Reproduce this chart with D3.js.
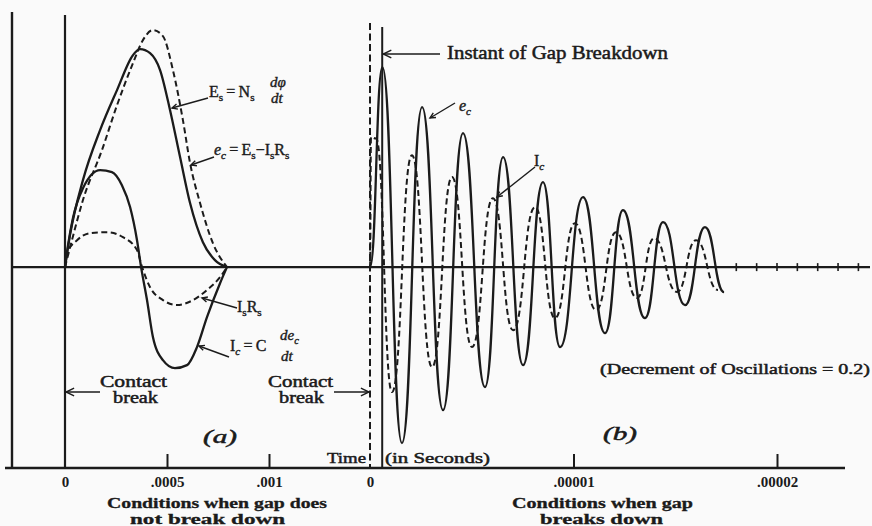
<!DOCTYPE html>
<html>
<head>
<meta charset="utf-8">
<script src="https://cdnjs.cloudflare.com/ajax/libs/d3/7.8.5/d3.min.js"></script>
<style>
  body { margin: 0; background: #fafafa; }
  svg { display: block; }
  text { font-family: "Liberation Serif", "DejaVu Serif", serif; fill: #1b1b1b; }
</style>
</head>
<body>
<div id="canvas"></div>
<script>
"use strict"

/* Panel (a) - gap does not break down. Time in seconds, values in relative units */
let esTime = [0, 0.245e-4, 0.88e-4, 1.72e-4, 2.55e-4, 3.33e-4, 3.68e-4, 4.17e-4, 4.66e-4, 5.15e-4, 5.64e-4, 6.13e-4, 6.76e-4, 7.35e-4, 7.94e-4];
let esValue = [0, 15.9, 43.3, 68.2, 88.1, 105.5, 108.5, 106.5, 98.1, 78.1, 54.8, 31.9, 12.4, 3.5, 0];

let ecTimeA = [0, 0.34e-4, 0.88e-4, 1.81e-4, 2.55e-4, 3.33e-4, 3.82e-4, 4.31e-4, 4.80e-4, 5.29e-4, 5.78e-4, 6.13e-4, 6.62e-4, 7.25e-4, 7.94e-4];
let ecValueA = [0, 13.4, 33.4, 58.2, 80.6, 101.5, 113.0, 118.0, 115.0, 98.1, 73.2, 51.8, 31.9, 11.9, 0];

let icTimeA = [0, 0.15e-4, 0.39e-4, 0.88e-4, 1.72e-4, 2.30e-4, 2.79e-4, 3.19e-4, 3.53e-4, 3.73e-4, 4.02e-4, 4.31e-4, 4.80e-4, 5.39e-4, 5.98e-4, 6.47e-4, 6.96e-4, 7.60e-4, 7.94e-4];
let icValueA = [0, 11.0, 24.4, 39.3, 48.3, 47.3, 40.8, 29.9, 13.4, 0, -16.4, -34.8, -46.3, -50.3, -48.8, -39.8, -24.9, -8.0, 0];

let isrsTime = [0, 0.10e-4, 0.59e-4, 1.23e-4, 2.06e-4, 2.84e-4, 3.53e-4, 3.78e-4, 4.17e-4, 4.80e-4, 5.49e-4, 6.28e-4, 6.96e-4, 7.60e-4, 7.94e-4];
let isrsValue = [0, 7.0, 13.4, 16.9, 17.4, 14.9, 8.5, 0, -10.0, -16.4, -18.9, -16.4, -11.4, -5.0, 0];

/* Panel (b) - gap breaks down: crests and troughs of the oscillation (times in seconds) */
let ecTimeB = [0, 0.61e-6, 1.57e-6, 2.56e-6, 3.59e-6, 4.57e-6, 5.65e-6, 6.54e-6, 7.52e-6, 8.50e-6, 9.34e-6, 10.47e-6, 11.55e-6, 12.43e-6, 13.51e-6, 14.40e-6, 15.48e-6, 16.46e-6, 17.40e-6];
let ecValueB = [0, 99.6, -87.6, 79.6, -71.2, 66.7, -59.7, 54.8, -48.8, 42.3, -39.8, 34.8, -32.9, 28.4, -25.4, 22.4, -18.9, 19.9, -12.4];

let icTimeB = [0, 0.05e-6, 0.30e-6, 1.08e-6, 2.06e-6, 3.05e-6, 4.03e-6, 5.01e-6, 6.04e-6, 7.03e-6, 8.11e-6, 9.09e-6, 10.07e-6, 11.11e-6, 12.09e-6, 13.12e-6, 13.96e-6, 15.09e-6, 16.02e-6, 17.10e-6];
let icValueB = [0, 64.7, 64, -62.2, 55.7, -49.8, 44.8, -39.8, 34.3, -31.4, 29.9, -25.4, 21.9, -21.4, 17.4, -15.4, 14.4, -12.4, 13.4, -11.4];

let breakdownTime = 0.6e-6;

/* Tick values and labels */
let ticksA = [0, 0.0005, 0.001];
let tickLabelsA = ["0", ".0005", ".001"];
let ticksB = [0, 0.00001, 0.00002];
let tickLabelsB = ["0", ".00001", ".00002"];
let smallTicksB = [18e-6, 19e-6, 20e-6, 21e-6, 22e-6, 23e-6, 24e-6];

/* drawing canvas */
let drawing = d3.select("#canvas")
    .append("svg")
    .attr("width", 872)
    .attr("height", 526);

drawing.append("rect")
    .attr("width", 872)
    .attr("height", 526)
    .attr("fill", "#fafafa");

let ink = "#1b1b1b";

let xA = d3.scaleLinear().domain([0, 0.001]).range([65, 269]);
let xB = d3.scaleLinear().domain([0, 0.00002]).range([370, 777]);
let y = d3.scaleLinear().domain([-100, 127]).range([468, 12]);

/* frame lines */
function rule(x1, y1, x2, y2, w, dash) {
    let l = drawing.append("line")
        .attr("x1", x1).attr("y1", y1)
        .attr("x2", x2).attr("y2", y2)
        .attr("stroke", ink)
        .attr("stroke-width", w);
    if (dash) l.attr("stroke-dasharray", dash);
    return l;
}

rule(12, y(127), 12, y(-100), 2.4);                   // left border
rule(xA(0), 15, xA(0), y(-100), 2.2);                 // contact break (a)
rule(xB(0), 23, xB(0), y(-100), 2, "7,3.5");          // contact break (b)
rule(xB(breakdownTime), 27, xB(breakdownTime), y(-100), 2); // gap breakdown
rule(12, y(0), 870, y(0), 2.4);                       // zero line
rule(5, y(-100), 845, y(-100), 2.6);                  // time axis

/* axes */
function timeAxis(scale, values, labels) {
    let g = drawing.append("g")
        .attr("transform", "translate(0," + y(-100) + ")")
        .call(d3.axisBottom(scale)
            .tickValues(values)
            .tickFormat((d, i) => labels[i])
            .tickSize(-14)
            .tickPadding(8));
    g.select(".domain").remove();
    g.selectAll(".tick line")
        .attr("stroke", ink)
        .attr("stroke-width", 2)
        .filter(d => d === 0).remove();
    g.selectAll(".tick text")
        .attr("font-family", "Liberation Serif")
        .attr("font-weight", "bold")
        .attr("font-size", 15)
        .attr("fill", ink);
}
timeAxis(xA, ticksA, tickLabelsA);
timeAxis(xB, ticksB, tickLabelsB);

/* small ticks on the zero line past the oscillation */
drawing.selectAll(".smalltick")
    .data(smallTicksB)
    .enter()
    .append("line")
    .attr("x1", d => xB(d)).attr("x2", d => xB(d))
    .attr("y1", y(0) - 4).attr("y2", y(0) + 4)
    .attr("stroke", ink)
    .attr("stroke-width", 1.6);

/* curves */
function curve(scale, times, values, dashed, shape) {
    let line = d3.line()
        .x(d => scale(d[0]))
        .y(d => y(d[1]))
        .curve(shape);
    let p = drawing.append("path")
        .attr("d", line(d3.zip(times, values)))
        .attr("fill", "none")
        .attr("stroke", ink)
        .attr("stroke-width", dashed ? 2 : 2.3)
        .attr("stroke-linejoin", "round");
    if (dashed) p.attr("stroke-dasharray", "6,3.5");
}

curve(xA, esTime, esValue, false, d3.curveMonotoneX);
curve(xA, ecTimeA, ecValueA, true, d3.curveMonotoneX);
curve(xA, icTimeA, icValueA, false, d3.curveMonotoneX);
curve(xA, isrsTime, isrsValue, true, d3.curveMonotoneX);
curve(xB, ecTimeB, ecValueB, false, d3.curveBumpX);
curve(xB, icTimeB, icValueB, true, d3.curveBumpX);

/* arrows and leaders */
function arrow(x1, y1, x2, y2, head) {
    rule(x1, y1, x2, y2, 1.4);
    let a = Math.atan2(y2 - y1, x2 - x1);
    let s = head;
    drawing.append("polyline")
        .attr("points", [
            [x2 - s * Math.cos(a - 0.45), y2 - s * Math.sin(a - 0.45)],
            [x2, y2],
            [x2 - s * Math.cos(a + 0.45), y2 - s * Math.sin(a + 0.45)]
        ].join(" "))
        .attr("fill", "none")
        .attr("stroke", ink)
        .attr("stroke-width", 1.4);
}

arrow(440, 54, xB(breakdownTime) + 1, 54, 9);   // instant of gap breakdown
arrow(100, 392, xA(0) + 1, 392, 9);             // contact break (a)
arrow(334, 392, xB(0) - 1, 392, 9);             // contact break (b)
arrow(208, 98, 172, 108, 6);                    // E_s
arrow(214, 157, 191, 165, 6);                   // e_c (a)
arrow(237, 308, 202, 298, 6);                   // I_s R_s
arrow(229, 357, 199, 346, 6);                   // I_c (a)
arrow(455, 103, 430, 118, 6);                   // e_c (b)
arrow(535, 167, 497, 197, 6);                   // I_c (b)

/* plain labels */
function label(x, yy, str, size, opts) {
    opts = opts || {};
    let t = drawing.append("text")
        .attr("x", x)
        .attr("y", yy)
        .attr("font-size", size)
        .attr("text-anchor", opts.anchor || "start")
        .attr("stroke", ink)
        .attr("stroke-width", opts.stroke === undefined ? 0.5 : opts.stroke)
        .text(str);
    if (opts.width) t.attr("textLength", opts.width).attr("lengthAdjust", "spacingAndGlyphs");
    if (opts.italic) t.attr("font-style", "italic");
    if (opts.bold) t.attr("font-weight", "bold");
    if (opts.family) t.attr("font-family", opts.family);
    return t;
}

label(447, 59, "Instant of Gap Breakdown", 18, {width: 221});
label(600, 374, "(Decrement of Oscillations = 0.2)", 15, {width: 270});
label(100, 387, "Contact", 16, {width: 67});
label(113, 403, "break", 16, {width: 45});
label(268, 387, "Contact", 16, {width: 65});
label(279, 403, "break", 16, {width: 45});
label(327, 463, "Time", 15, {width: 39});
label(385, 463, "(in Seconds)", 15, {width: 105});
label(203, 443, "(a)", 18, {italic: true, width: 34});
label(603, 440, "(b)", 18, {italic: true, width: 34});

label(107, 508, "Conditions when gap does", 14, {bold: true, family: "DejaVu Serif", width: 220, stroke: 0.3});
label(130, 524, "not break down", 14, {bold: true, family: "DejaVu Serif", width: 155, stroke: 0.3});
label(512, 508, "Conditions when gap", 14, {bold: true, family: "DejaVu Serif", width: 181, stroke: 0.3});
label(540, 524, "breaks down", 14, {bold: true, family: "DejaVu Serif", width: 123, stroke: 0.3});

/* formula labels with subscripts */
function formula(x, yy, parts, size) {
    let t = drawing.append("text")
        .attr("x", x)
        .attr("y", yy)
        .attr("font-size", size)
        .attr("stroke", ink)
        .attr("stroke-width", 0.4);
    let shift = 0;
    parts.forEach(p => {
        let s = t.append("tspan").text(p[0]);
        let want = p[1] === "sub" ? 4 : 0;
        if (want !== shift) { s.attr("dy", want - shift); shift = want; }
        if (p[1] === "sub") s.attr("font-size", size * 0.7);
        if (p[2] === "i") s.attr("font-style", "italic");
    });
    return t;
}

formula(209, 97, [["E"], ["s", "sub"], ["\u2009=\u2009"], ["N"], ["s", "sub"]], 16);
formula(270, 87, [["d\u03c6", "", "i"]], 15);
formula(271, 103, [["dt", "", "i"]], 15);

formula(214, 155, [["e", "", "i"], ["c", "sub", "i"], ["\u2009=\u2009E"], ["s", "sub"], ["\u2212I"], ["s", "sub"], ["R"], ["s", "sub"]], 16);

formula(237, 312, [["I"], ["s", "sub"], ["R"], ["s", "sub"]], 16);

formula(230, 351, [["I"], ["c", "sub", "i"], ["\u2009=\u2009C"]], 16);
formula(280, 340, [["de", "", "i"], ["c", "sub", "i"]], 15);
formula(281, 361, [["dt", "", "i"]], 15);

formula(459, 111, [["e", "", "i"], ["c", "sub", "i"]], 16);
formula(534, 166, [["I"], ["c", "sub", "i"]], 16);
</script>
</body>
</html>
